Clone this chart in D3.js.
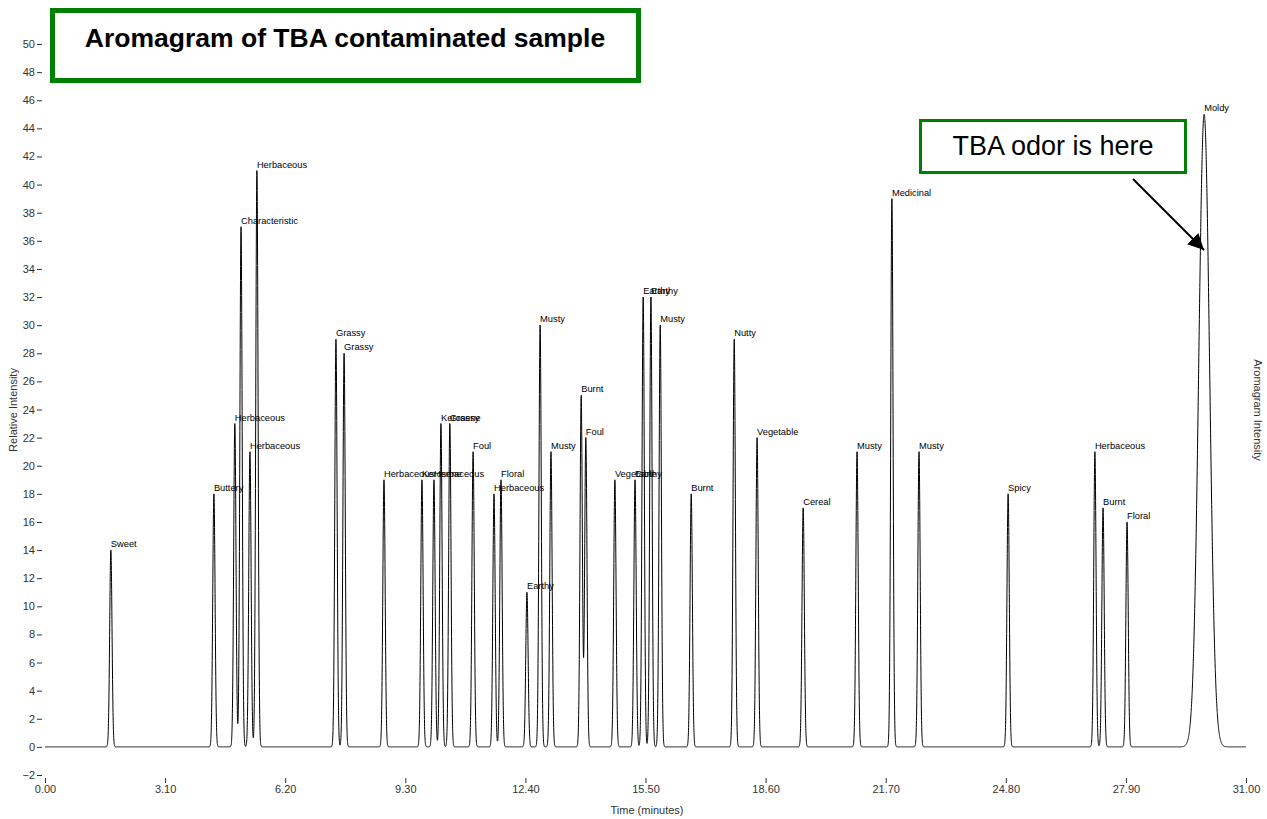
<!DOCTYPE html>
<html lang="en">
<head>
  <meta charset="UTF-8">
  <title>Aromagram of TBA contaminated sample</title>
  <script src="https://d3js.org/d3.v7.min.js"></script>
  <style>
    body { margin: 0; background: #fff; }
    svg { display: block; font-family: Arial, "Liberation Sans", sans-serif; }
  </style>
</head>
<body>
  <svg id="chart" width="1267" height="819"></svg>

  <script>
    // peaks: retention time (min), height, odor descriptor
    const peakTimes = [1.70, 4.36, 4.90, 5.06, 5.29, 5.47, 7.51, 7.72, 8.75, 9.73, 10.04, 10.22, 10.45,
      11.05, 11.59, 11.77, 12.44, 12.78, 13.06, 13.84, 13.96, 14.71, 15.23, 15.44, 15.64, 15.88,
      16.68, 17.79, 18.38, 19.57, 20.96, 21.86, 22.56, 24.86, 27.10, 27.31, 27.93, 29.92];
    const peakHeights = [14, 18, 23, 37, 21, 41, 29, 28, 19, 19, 19, 23, 23,
      21, 18, 19, 11, 30, 21, 25, 22, 19, 19, 32, 32, 30,
      18, 29, 22, 17, 21, 39, 21, 18, 21, 17, 16, 45];
    const peakLabels = ["Sweet", "Buttery", "Herbaceous", "Characteristic", "Herbaceous", "Herbaceous",
      "Grassy", "Grassy", "Herbaceous", "Kerosene", "Herbaceous", "Kerosene", "Grassy",
      "Foul", "Herbaceous", "Floral", "Earthy", "Musty", "Musty", "Burnt", "Foul", "Vegetable",
      "Earthy", "Earthy", "Earthy", "Musty", "Burnt", "Nutty", "Vegetable", "Cereal", "Musty",
      "Medicinal", "Musty", "Spicy", "Herbaceous", "Burnt", "Floral", "Moldy"];
    // peak widths (sigma, minutes) - the TBA peak is much broader
    const peakWidths = peakTimes.map((t, i) => peakLabels[i] === "Moldy" ? 0.14 : 0.03);

    const xTicks = d3.range(0, 11).map(i => +(i * 3.1).toFixed(2));
    const yTicks = d3.range(-2, 52, 2);

    const svg = d3.select("#chart");
    const x = d3.scaleLinear().domain([0, 31]).range([45, 1246]);
    const y = d3.scaleLinear().domain([-2, 50]).range([775, 44]);

    // sum of peaks sampled along the time axis
    const step = 0.002;
    const trace = d3.range(0, 31 + step / 2, step).map(t => {
      let v = 0;
      peakTimes.forEach((pt, i) => {
        const z = (t - pt) / peakWidths[i];
        if (Math.abs(z) < 6) v += peakHeights[i] * Math.exp(-0.5 * z * z);
      });
      return [t, v];
    });

    svg.append("path")
      .datum(trace)
      .attr("fill", "none")
      .attr("stroke", "#000")
      .attr("stroke-width", 1)
      .attr("d", d3.line().x(d => x(d[0])).y(d => y(d[1])));

    // peak labels
    svg.append("g")
      .selectAll("text")
      .data(peakTimes)
      .join("text")
      .attr("x", d => x(d))
      .attr("y", (d, i) => y(peakHeights[i]) - 3)
      .attr("font-size", 9.3)
      .attr("fill", "#000")
      .text((d, i) => peakLabels[i]);

    // y axis: labels with a dash tick, no axis line
    const yAxis = svg.append("g").attr("transform", "translate(42,0)")
      .call(d3.axisLeft(y).tickValues(yTicks).tickSize(5).tickPadding(2));
    yAxis.select(".domain").remove();
    yAxis.selectAll("text").attr("font-size", 11).attr("fill", "#333").attr("font-family", "Arial, 'Liberation Sans', sans-serif");
    yAxis.selectAll("line").attr("stroke", "#333");

    // x axis: small ticks below the -2 level
    const xAxis = svg.append("g").attr("transform", "translate(0,778)")
      .call(d3.axisBottom(x).tickValues(xTicks).tickFormat(d3.format(".2f")).tickSize(5).tickPadding(2));
    xAxis.select(".domain").remove();
    xAxis.selectAll("text").attr("font-size", 11).attr("fill", "#333").attr("font-family", "Arial, 'Liberation Sans', sans-serif");
    xAxis.selectAll("line").attr("stroke", "#333");

    svg.append("text")
      .attr("x", 647).attr("y", 814)
      .attr("text-anchor", "middle")
      .attr("font-size", 11).attr("fill", "#333")
      .text("Time (minutes)");

    svg.append("text")
      .attr("transform", "translate(17,410) rotate(-90)")
      .attr("text-anchor", "middle")
      .attr("font-size", 11).attr("fill", "#333")
      .text("Relative Intensity");

    svg.append("text")
      .attr("transform", "translate(1254,410) rotate(90)")
      .attr("text-anchor", "middle")
      .attr("font-size", 11).attr("fill", "#333")
      .text("Aromagram Intensity");

    // title box
    svg.append("rect")
      .attr("x", 52.5).attr("y", 10.5).attr("width", 586).attr("height", 70)
      .attr("fill", "#fff").attr("stroke", "#008000").attr("stroke-width", 5);
    svg.append("text")
      .attr("x", 345).attr("y", 47)
      .attr("text-anchor", "middle")
      .attr("font-size", 26.5).attr("font-weight", "bold")
      .text("Aromagram of TBA contaminated sample");

    // callout
    svg.append("rect")
      .attr("x", 920.5).attr("y", 120.5).attr("width", 265).attr("height", 52)
      .attr("fill", "#fff").attr("stroke", "#008000").attr("stroke-width", 3);
    svg.append("text")
      .attr("x", 1053).attr("y", 155)
      .attr("text-anchor", "middle")
      .attr("font-size", 27)
      .text("TBA odor is here");

    svg.append("defs").append("marker")
      .attr("id", "arrow")
      .attr("viewBox", "0 0 10 10")
      .attr("refX", 10).attr("refY", 5)
      .attr("markerWidth", 8).attr("markerHeight", 8)
      .attr("markerUnits", "strokeWidth")
      .attr("orient", "auto")
      .append("path").attr("d", "M0,0L10,5L0,10z").attr("fill", "#000");
    svg.append("line")
      .attr("x1", 1133).attr("y1", 179)
      .attr("x2", 1204).attr("y2", 250)
      .attr("stroke", "#000").attr("stroke-width", 2)
      .attr("marker-end", "url(#arrow)");
  </script>
</body>
</html>
